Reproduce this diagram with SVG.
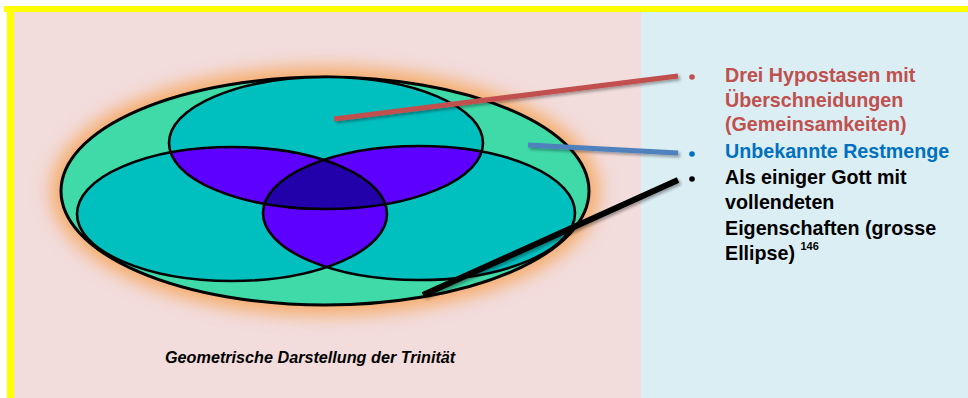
<svg xmlns="http://www.w3.org/2000/svg" width="968" height="398" viewBox="0 0 968 398">
<style>
.t{font-family:"Liberation Sans",Arial,sans-serif;font-weight:bold;font-size:19.7px}
.red{fill:#C0504D}.blue{fill:#0070C0}.blk{fill:#000}
.ol{fill:none;stroke:#000;stroke-width:2.6}
.conn{fill:none;stroke-linecap:butt}
</style>
<defs>
<filter id="glow" x="-25%" y="-40%" width="150%" height="180%"><feGaussianBlur stdDeviation="9"/></filter>
<filter id="sh" x="-10%" y="-50%" width="120%" height="200%"><feGaussianBlur in="SourceAlpha" stdDeviation="1.5"/><feOffset dx="2" dy="2"/><feComponentTransfer><feFuncA type="linear" slope="0.35"/></feComponentTransfer><feMerge><feMergeNode/><feMergeNode in="SourceGraphic"/></feMerge></filter>
<ellipse id="eT" cx="326" cy="143" rx="157" ry="66"/>
<ellipse id="eL" cx="232" cy="214" rx="155" ry="67"/>
<ellipse id="eR" cx="419" cy="213" rx="156" ry="67"/>
<clipPath id="cT"><use href="#eT"/></clipPath>
<clipPath id="cL"><use href="#eL"/></clipPath>
<clipPath id="cR"><use href="#eR"/></clipPath>
</defs>
<rect x="0" y="0" width="968" height="398" fill="#fff"/>
<rect x="14" y="12" width="627" height="386" fill="#F2DCDC"/>
<rect x="641" y="12" width="327" height="386" fill="#DBEEF4"/>
<rect x="4" y="6" width="964" height="6" fill="#FFFF00"/>
<rect x="7" y="6" width="7" height="392" fill="#FFFF00"/>
<g id="glow-ellipse">
<ellipse cx="325" cy="191" rx="274" ry="124" fill="#F5AA68" filter="url(#glow)"/>
</g>
<g id="ellipse-outer">
<ellipse cx="325" cy="191" rx="264" ry="114" fill="#40D9A8" stroke="#000" stroke-width="3"/>
</g>
<g id="hypostasis-top"><use href="#eT" fill="#00BFBF"/></g>
<g id="hypostasis-left"><use href="#eL" fill="#00BFBF"/></g>
<g id="hypostasis-right"><use href="#eR" fill="#00BFBF"/></g>
<g id="overlaps">
<use href="#eT" fill="#5E00FF" clip-path="url(#cL)"/>
<use href="#eT" fill="#5E00FF" clip-path="url(#cR)"/>
<use href="#eL" fill="#5E00FF" clip-path="url(#cR)"/>
<g clip-path="url(#cL)"><use href="#eT" fill="#2200AA" clip-path="url(#cR)"/></g>
</g>
<g id="outlines">
<use href="#eT" class="ol"/>
<use href="#eL" class="ol"/>
<use href="#eR" class="ol"/>
</g>
<g id="connectors" filter="url(#sh)">
<line class="conn" x1="334" y1="119" x2="678" y2="76" stroke="#C0504D" stroke-width="5"/>
<line class="conn" x1="528" y1="145" x2="678" y2="153" stroke="#4F81BD" stroke-width="5"/>
<line class="conn" x1="423" y1="295" x2="678" y2="180" stroke="#000" stroke-width="6"/>
</g>
<g id="label-hypostasen">
<circle cx="692" cy="77" r="2.8" fill="#C0504D"/>
<text class="t red" x="725" y="82">Drei Hypostasen mit</text>
<text class="t red" x="725" y="107">Überschneidungen</text>
<text class="t red" x="725" y="131">(Gemeinsamkeiten)</text>
</g>
<g id="label-restmenge">
<circle cx="692" cy="154" r="2.8" fill="#0070C0"/>
<text class="t blue" x="725" y="158">Unbekannte Restmenge</text>
</g>
<g id="label-gott">
<circle cx="692" cy="179" r="2.8" fill="#000"/>
<text class="t blk" x="725" y="184">Als einiger Gott mit</text>
<text class="t blk" x="725" y="209">vollendeten</text>
<text class="t blk" x="725" y="235">Eigenschaften (grosse</text>
<text class="t blk" x="725" y="260">Ellipse) <tspan font-size="11" dy="-10">146</tspan></text>
</g>
<g id="caption">
<text x="165" y="363" font-family="'Liberation Sans',Arial,sans-serif" font-weight="bold" font-style="italic" font-size="16.2" fill="#000">Geometrische Darstellung der Trinität</text>
</g>
</svg>
